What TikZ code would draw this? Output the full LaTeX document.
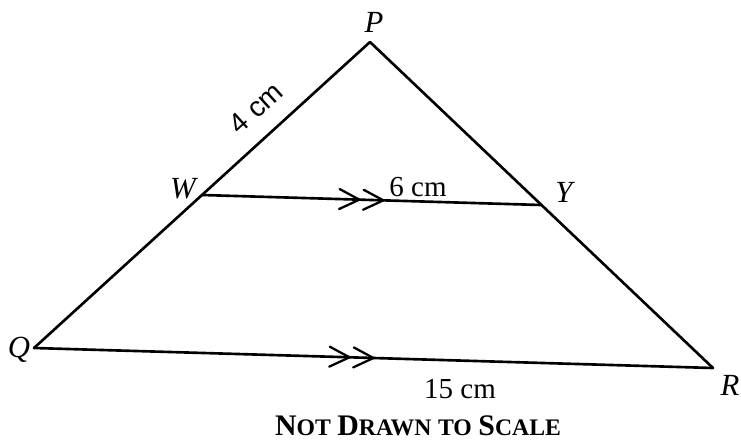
\documentclass[tikz,border=0pt]{standalone}
\usepackage{fontspec}
\setmainfont{Liberation Serif}
\newfontfamily\sidefont{Liberation Sans}
\usepackage{tikz}
\usetikzlibrary{decorations.markings}
\newcommand{\capsmall}[2]{{\fontsize{17}{20}\selectfont #1}{\fontsize{13.5}{16}\selectfont #2}}

\begin{document}
\begin{tikzpicture}[x=0.02cm, y=-0.02cm]
    % Styles:
    \tikzset{edge/.style={line width=1.5pt, line cap=round, line join=round}}
    \tikzset{vlabel/.style={font=\fontsize{17.5}{20}\selectfont\itshape, inner sep=0pt}}
    \tikzset{lenlabel/.style={font=\fontsize{16.5}{19}\selectfont, inner sep=0pt}}
    \tikzset{parallel/.style={postaction=decorate, decoration={markings,
        mark=at position #1 with {\draw[line width=1.3pt] (-20,10) -- (0,0) -- (-20,-10);
                                   \draw[line width=1.3pt] (-44,10) -- (-24,0) -- (-44,-10);}}}}
    \useasboundingbox (0,0) rectangle (741,443);

    % Vertices:
    \coordinate (P) at (370,42);
    \coordinate (Q) at (34,348);
    \coordinate (R) at (713,368);
    \coordinate (W) at (202,195);
    \coordinate (Y) at (541,205);

    % Sides:
    \draw[edge] (Q) -- (P) -- (R);
    \draw[edge, parallel=0.535] (W) -- (Y);
    \draw[edge, parallel=0.5] (Q) -- (R);

    % Vertex labels:
    \node[vlabel] (lp) at (374,22)  {P};
    \node[vlabel] (lw) at (183,189) {W};
    \node[vlabel] (ly) at (564,192) {Y};
    \node[vlabel] (lq) at (19,350)  {Q};
    \node[vlabel] (lr) at (730,385) {R};

    % Lengths:
    \node[font=\fontsize{16}{18}\selectfont\sidefont, inner sep=0pt, rotate=42.2] (pw) at (256,108) {4 cm};
    \node[lenlabel] (wy) at (418,187) {6 cm};
    \node[lenlabel] (qr) at (460,389) {15 cm};

    % Note:
    \node[font=\fontsize{15}{18}\selectfont\bfseries, inner sep=0pt] (note) at (418,426)
        {\capsmall{N}{OT} \capsmall{D}{RAWN} {\fontsize{13.5}{16}\selectfont TO} \capsmall{S}{CALE}};
\end{tikzpicture}
\end{document}
